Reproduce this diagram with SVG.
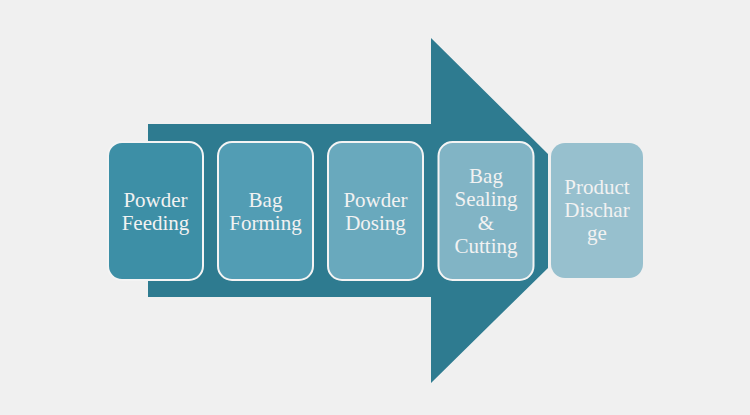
<svg xmlns="http://www.w3.org/2000/svg" width="750" height="415" viewBox="0 0 750 415">
<style>
.t{font-family:"Liberation Serif","DejaVu Serif",serif;font-size:21px;fill:#f2f2f2;text-anchor:middle}
.b{stroke:#f4f4f4;stroke-width:2}
</style>
<rect width="750" height="415" fill="#f0f0f0"/>
<g id="arrow">
<polygon points="148,124 431,124 431,38 548,154 548,268 431,383 431,297 148,297" fill="#2e7b90"/>
</g>
<g id="connectors"></g>
<g id="n1"><rect class="b" x="108" y="142" width="95" height="138" rx="14" fill="#3d8fa6"/>
<text class="t" x="155.5" y="207">Powder</text><text class="t" x="155.5" y="230">Feeding</text></g>
<g id="n2"><rect class="b" x="218" y="142" width="95" height="138" rx="14" fill="#529db4"/>
<text class="t" x="265.5" y="207">Bag</text><text class="t" x="265.5" y="230">Forming</text></g>
<g id="n3"><rect class="b" x="328" y="142" width="95" height="138" rx="14" fill="#69a9bd"/>
<text class="t" x="375.5" y="207">Powder</text><text class="t" x="375.5" y="230">Dosing</text></g>
<g id="n4"><rect class="b" x="438.500" y="142" width="95" height="138" rx="14" fill="#81b4c5"/>
<text class="t" x="486" y="183">Bag</text><text class="t" x="486" y="206">Sealing</text><text class="t" x="486" y="230">&amp;</text><text class="t" x="486" y="253">Cutting</text></g>
<g id="n5"><rect x="551" y="143" width="92" height="135" rx="14" fill="#97c0ce"/>
<text class="t" x="597" y="194">Product</text><text class="t" x="597" y="217">Dischar</text><text class="t" x="597" y="240">ge</text></g>
</svg>
